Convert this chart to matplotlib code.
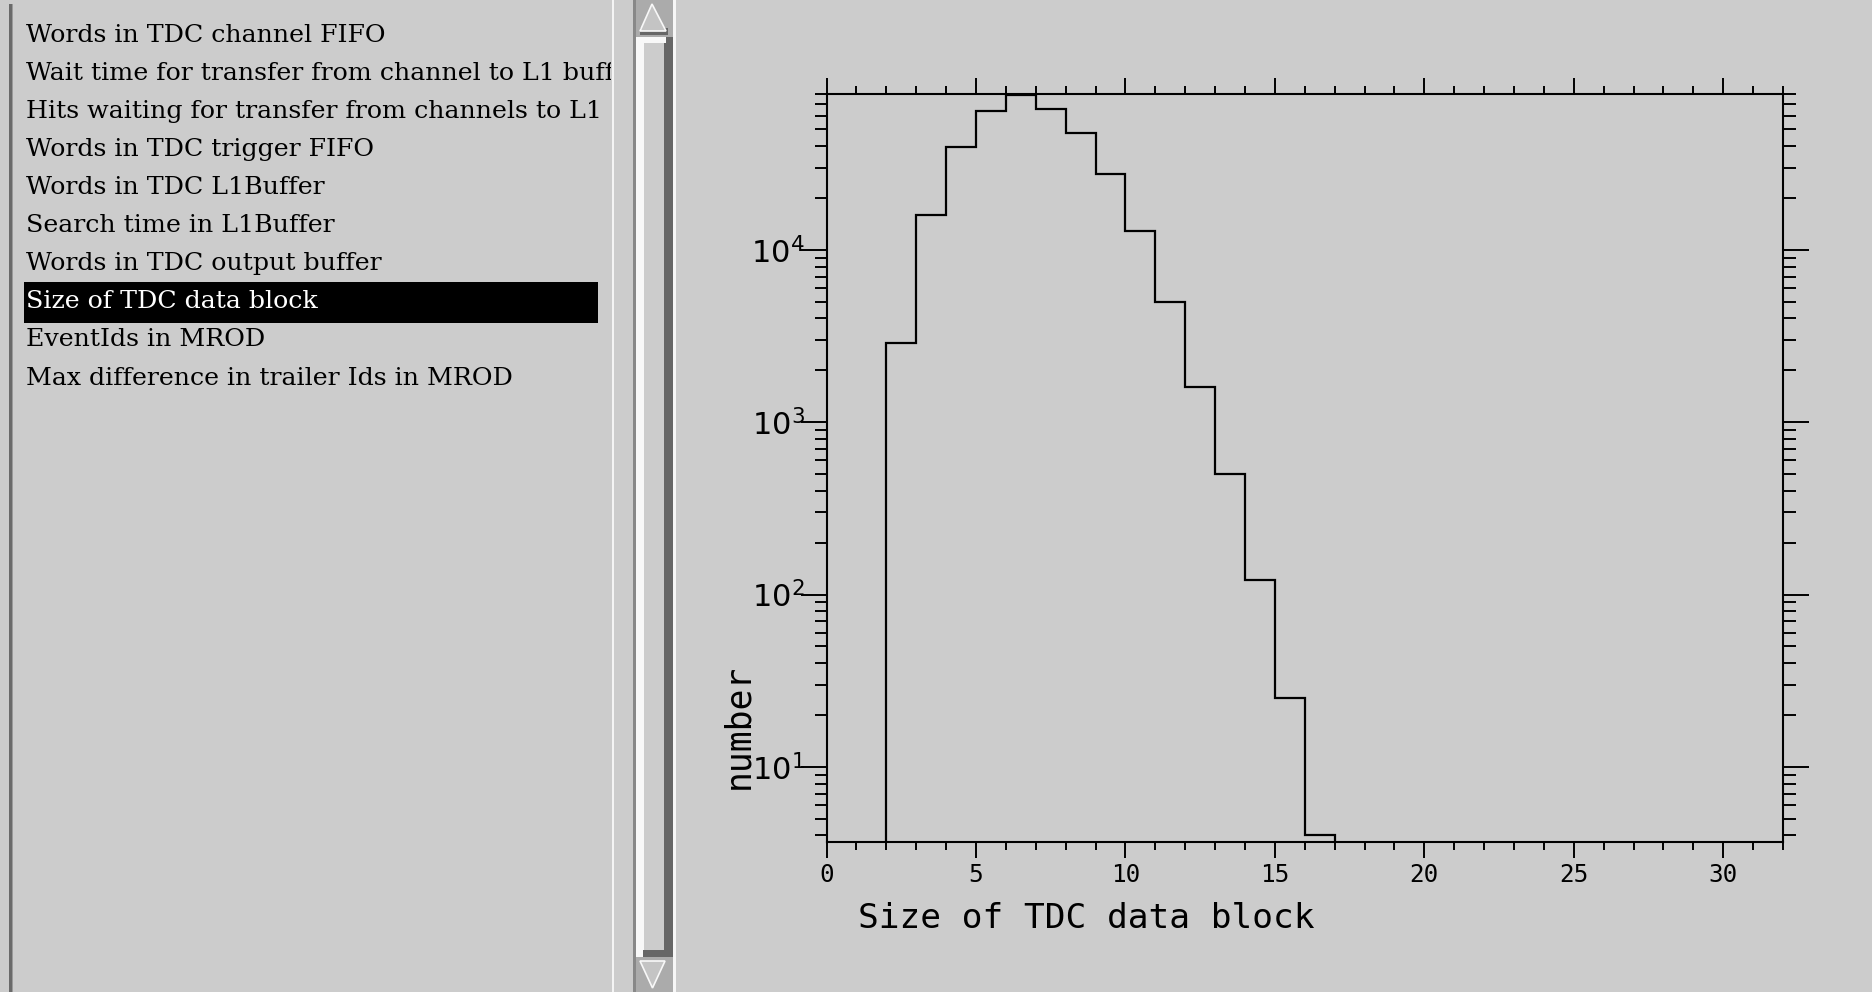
import matplotlib
matplotlib.use("Agg")
import matplotlib.pyplot as plt
from matplotlib.patches import Rectangle, Polygon
from matplotlib.ticker import FixedLocator, LogLocator, NullFormatter, FixedFormatter
from matplotlib.transforms import Bbox, TransformedBbox
import numpy as np

# ---------------- data ----------------
list_items = [
    "Words in TDC channel FIFO",
    "Wait time for transfer from channel to L1 buffer",
    "Hits waiting for transfer from channels to L1",
    "Words in TDC trigger FIFO",
    "Words in TDC L1Buffer",
    "Search time in L1Buffer",
    "Words in TDC output buffer",
    "Size of TDC data block",
    "EventIds in MROD",
    "Max difference in trailer Ids in MROD",
]
selected_index = 7

bin_edges = [2, 3, 4, 5, 6, 7, 8, 9, 10, 11, 12, 13, 14, 15, 16, 17]
counts = [2897, 16030, 39600, 64100, 79300, 66100, 47800, 27700,
          12840, 4977, 1611, 503, 122, 25, 4]

x_major_ticks = [0, 5, 10, 15, 20, 25, 30]
y_major_ticks = [10, 100, 1000, 10000]
y_tick_labels = [r"$\mathregular{10^{1}}$", r"$\mathregular{10^{2}}$",
                 r"$\mathregular{10^{3}}$", r"$\mathregular{10^{4}}$"]
x_label = "Size of TDC data block"
y_label = "number"

# ---------------- style ----------------
plt.rcParams["mathtext.fontset"] = "custom"
plt.rcParams["mathtext.rm"] = "DejaVu Sans Mono"
plt.rcParams["mathtext.it"] = "DejaVu Sans Mono"
plt.rcParams["mathtext.bf"] = "DejaVu Sans Mono"

W, H = 1872, 992
BG = "#cccccc"
fig = plt.figure(figsize=(W / 100, H / 100), dpi=100, facecolor=BG)

# background / widget layer in pixel coordinates
bg = fig.add_axes([0, 0, 1, 1], zorder=0)
bg.set_xlim(0, W)
bg.set_ylim(H, 0)
bg.axis("off")

# list box border
bg.add_patch(Rectangle((9, 4), 2.5, H, color="#6a6a6a", lw=0))
bg.add_patch(Rectangle((11.5, 4), 1.2, H, color="#9a9a9a", lw=0))
bg.add_patch(Rectangle((612, 0), 2, H, color="#f4f4f4", lw=0))

# highlight bar
bg.add_patch(Rectangle((24, 282), 574, 41, color="black", lw=0))

clip_box = TransformedBbox(Bbox([[12, 0], [611, H]]), bg.transData)
row0_baseline = 41.7
row_step = 38.1
for i, item in enumerate(list_items):
    t = bg.text(26, row0_baseline + i * row_step, item,
                fontfamily="DejaVu Serif", fontsize=18.2,
                color="white" if i == selected_index else "black",
                ha="left", va="baseline")
    t.set_clip_on(True)
    t.set_clip_box(clip_box)

# scrollbar
bg.add_patch(Rectangle((633, 0), 3, H, color="#888888", lw=0))
bg.add_patch(Rectangle((672.5, 0), 3.5, H, color="#f6f6f6", lw=0))
# arrow boxes
bg.add_patch(Rectangle((636, 0), 36.5, 37, color="#ababab", lw=0))
bg.add_patch(Rectangle((636, 957), 36.5, 35, color="#ababab", lw=0))
# thumb
bg.add_patch(Rectangle((636, 37), 36.5, 920, color=BG, lw=0))
bg.add_patch(Rectangle((636, 37), 7.5, 920, color="#f8f8f8", lw=0))
bg.add_patch(Rectangle((663.5, 37), 9, 920, color="#666666", lw=0))
bg.add_patch(Rectangle((636, 37), 30, 6, color="#f8f8f8", lw=0))
bg.add_patch(Rectangle((643, 950), 29.5, 7, color="#666666", lw=0))
# up arrow
bg.add_patch(Rectangle((640, 28), 28, 7, color="#666666", lw=0))
bg.add_patch(Polygon([(652, 4), (640, 31), (666, 31)], closed=True,
                     facecolor="#c4c4c4", edgecolor="#f8f8f8", lw=1.2))
# down arrow
bg.add_patch(Polygon([(640, 961), (665, 961), (652.5, 988)], closed=True,
                     facecolor="#c4c4c4", edgecolor="#f8f8f8", lw=1.2))

# ---------------- histogram ----------------
L, R, T, B = 826.5, 1783.0, 94.3, 841.7
ax = fig.add_axes([L / W, (H - B) / H, (R - L) / W, (B - T) / H], zorder=2)
ax.set_facecolor("none")
ax.set_yscale("log")
ax.set_xlim(0, 32)
ax.set_ylim(3.68, 8.0e4)

ax.stairs(counts, bin_edges, baseline=1.0, color="black", lw=1.6)

for s in ax.spines.values():
    s.set_linewidth(1.5)
    s.set_color("black")

ax.xaxis.set_major_locator(FixedLocator(x_major_ticks))
ax.xaxis.set_minor_locator(FixedLocator(np.arange(0, 33, 1)))
ax.yaxis.set_major_locator(FixedLocator(y_major_ticks))
ax.yaxis.set_major_formatter(FixedFormatter(y_tick_labels))
ax.yaxis.set_minor_locator(LogLocator(base=10, subs=np.arange(2, 10)))
ax.yaxis.set_minor_formatter(NullFormatter())

ax.tick_params(axis="both", which="both", direction="out", top=True, right=True,
               labeltop=False, labelright=False, color="black", width=1.4)
ax.tick_params(axis="x", which="major", length=11.5, pad=4)
ax.tick_params(axis="x", which="minor", length=6)
ax.tick_params(axis="y", which="major", length=18.5, pad=-3.0)
ax.tick_params(axis="y", which="minor", length=9)

for lab in ax.get_xticklabels():
    lab.set_fontfamily("DejaVu Sans Mono")
    lab.set_fontsize(17.5)
for lab in ax.get_yticklabels():
    lab.set_fontsize(22)

fig.text(858 / W, 1 - 918 / H, x_label, fontfamily="DejaVu Sans Mono",
         fontsize=24.8, ha="left", va="center")
fig.text(738 / W, 1 - 726 / H, y_label, fontfamily="DejaVu Sans Mono",
         fontsize=25, rotation=90, ha="center", va="center")

fig.savefig("out.png", dpi=100, facecolor=BG)
